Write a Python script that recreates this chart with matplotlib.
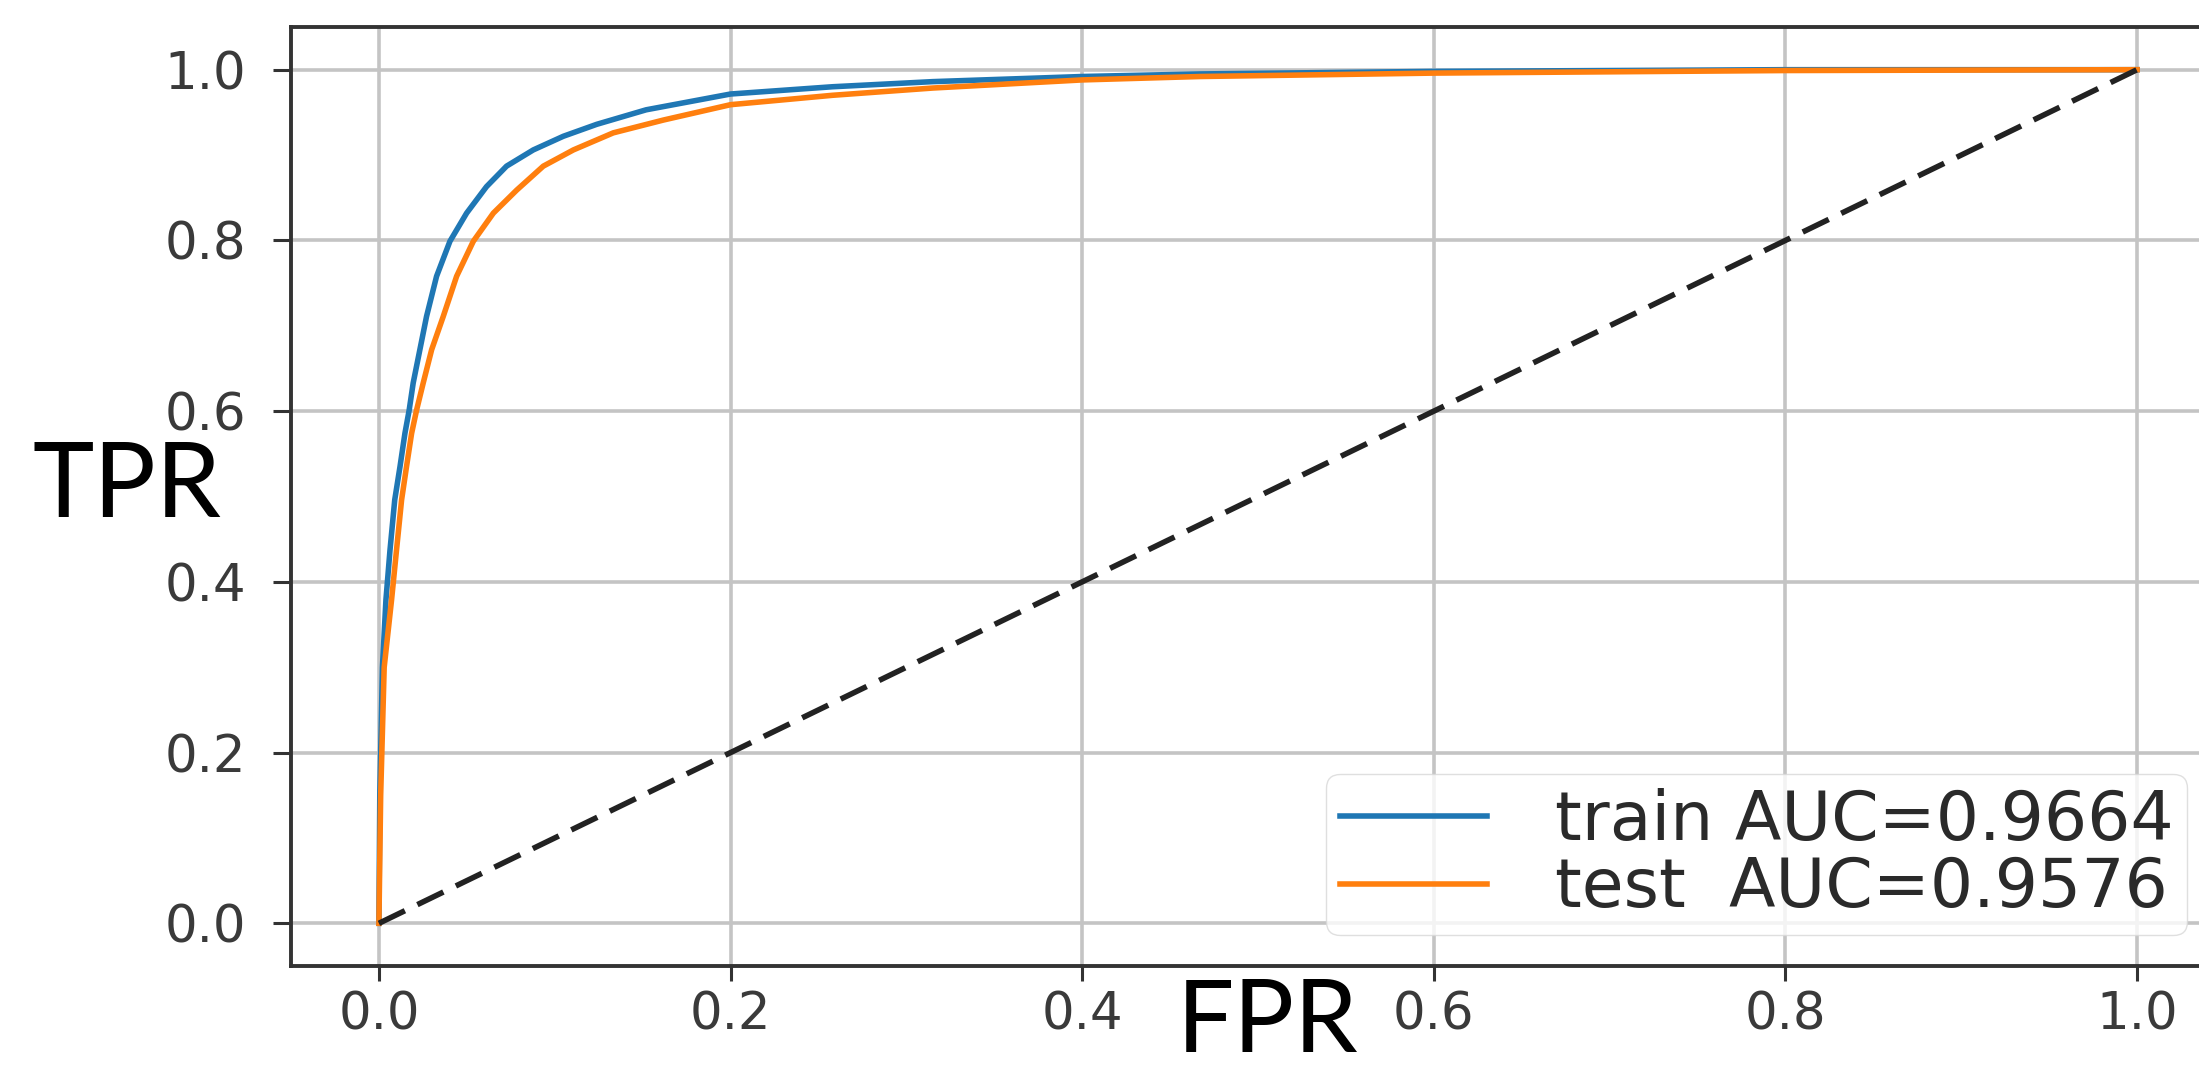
import numpy as np
import matplotlib.pyplot as plt

# точки ROC-кривых
train_fpr = [0, 0.0005, 0.002, 0.0040, 0.0063, 0.009, 0.012, 0.0148, 0.0172, 0.0195, 0.0233,
             0.0271, 0.0328, 0.0404, 0.0499, 0.0612, 0.0726, 0.0878, 0.1049, 0.1239, 0.152,
             0.2, 0.258, 0.315, 0.4, 0.467, 0.6, 0.8, 1.0]
train_tpr = [0, 0.15, 0.30, 0.379, 0.437, 0.496, 0.535, 0.574, 0.601, 0.633, 0.672,
             0.711, 0.758, 0.799, 0.832, 0.863, 0.887, 0.906, 0.922, 0.936, 0.953,
             0.9715, 0.980, 0.986, 0.992, 0.995, 0.998, 1.0, 1.0]

test_fpr = [0, 0.001, 0.003, 0.0072, 0.010, 0.0129, 0.0157, 0.0186, 0.0214, 0.0252, 0.030,
            0.0366, 0.0442, 0.0537, 0.0651, 0.0784, 0.0935, 0.1106, 0.1333, 0.1618,
            0.2, 0.258, 0.315, 0.4, 0.467, 0.6, 0.8, 1.0]
test_tpr = [0, 0.15, 0.30, 0.379, 0.437, 0.496, 0.535, 0.574, 0.601, 0.633, 0.672,
            0.711, 0.758, 0.799, 0.832, 0.859, 0.887, 0.906, 0.926, 0.941,
            0.959, 0.970, 0.9785, 0.988, 0.992, 0.996, 0.999, 1.0]

train_auc = 0.9664
test_auc = 0.9576
ticks = [0.0, 0.2, 0.4, 0.6, 0.8, 1.0]

W, H = 2199, 1070
fig = plt.figure(figsize=(W / 100, H / 100), dpi=100)
ax = fig.add_axes([291 / W, 104 / H, 1934 / W, 939 / H])

ax.plot(train_fpr, train_tpr, color='#1f77b4', lw=4.0, label=f'train AUC={train_auc}')
ax.plot(test_fpr, test_tpr, color='#ff7f0e', lw=4.0, label=f'test  AUC={test_auc}')
ax.plot([0, 1], [0, 1], color='#222222', lw=4.0, linestyle='--', dashes=(5.2, 2.5))

ax.set_xlim(-0.05, 1.05)
ax.set_ylim(-0.05, 1.05)
ax.set_xticks(ticks)
ax.set_yticks(ticks)
ax.set_xticklabels([f'{t:.1f}' for t in ticks])
ax.set_yticklabels([f'{t:.1f}' for t in ticks])

ax.set_axisbelow(True)
ax.grid(True, color='#c4c4c4', linewidth=2.6)
for s in ax.spines.values():
    s.set_linewidth(2.8)
    s.set_color('#333333')

ax.tick_params(axis='y', labelsize=37, pad=19.4, length=13, width=2.2,
               color='#333333', labelcolor='#3a3a3a')
ax.tick_params(axis='x', labelsize=37, pad=7, length=11, width=2.2,
               color='#333333', labelcolor='#3a3a3a')

ax.set_xlabel('FPR', fontsize=73, family='Lato', color='black', va='baseline')
ax.xaxis.set_label_coords(0.5047, -0.0916)
ax.set_ylabel('TPR', fontsize=75, family='Lato', color='black', rotation=0,
              ha='center', va='baseline')
ax.yaxis.set_label_coords(-0.0848, 0.478)

leg = ax.legend(loc='lower right', bbox_to_anchor=(0.9804, 0.033), borderaxespad=0,
                fontsize=49, handlelength=2.16, handletextpad=1.0, borderpad=0.2,
                labelspacing=0.02, fancybox=True, framealpha=0.8, edgecolor='#d8d8d8')
for t in leg.get_texts():
    t.set_color('#2a2a2a')

plt.savefig('out.png', dpi=100)
